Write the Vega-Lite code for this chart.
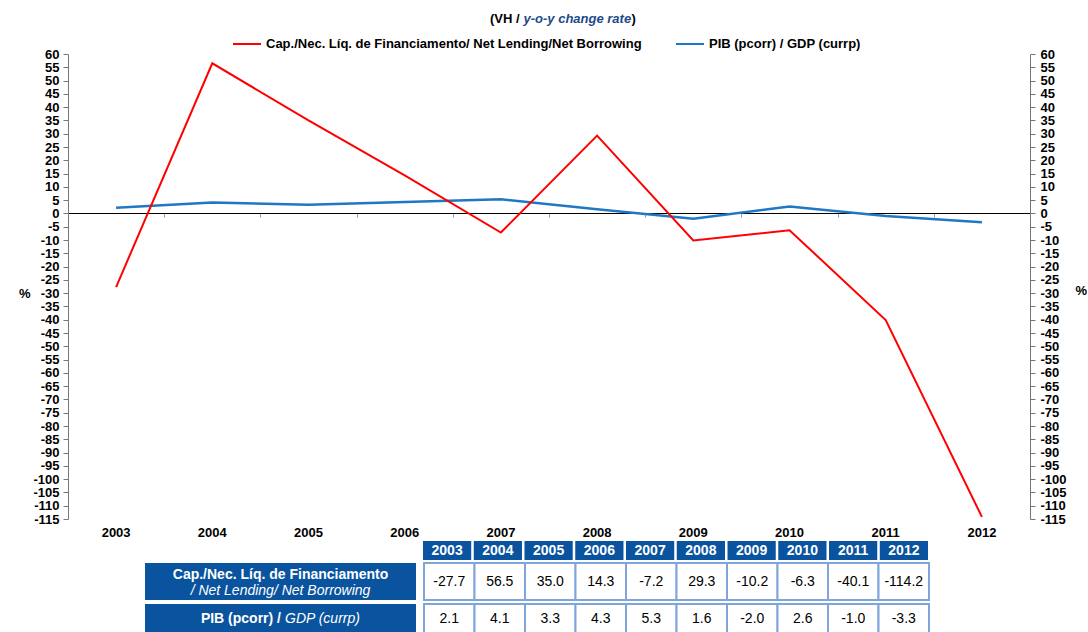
{
  "$schema": "https://vega.github.io/schema/vega-lite/v6.json",
  "background": "white",
  "padding": {"left": 18, "top": 12, "right": 0, "bottom": 0},
  "config": {
    "view": {"stroke": null},
    "font": "Liberation Sans",
    "locale": {"number": {"decimal": ".", "thousands": ",", "grouping": [3], "currency": ["$", ""], "minus": "-"}}
  },
  "datasets": {
    "lines": [
      {"year": "2003", "series": "Cap./Nec. Líq. de Financiamento/ Net Lending/Net Borrowing", "value": -27.7},
      {"year": "2004", "series": "Cap./Nec. Líq. de Financiamento/ Net Lending/Net Borrowing", "value": 56.5},
      {"year": "2005", "series": "Cap./Nec. Líq. de Financiamento/ Net Lending/Net Borrowing", "value": 35.0},
      {"year": "2006", "series": "Cap./Nec. Líq. de Financiamento/ Net Lending/Net Borrowing", "value": 14.3},
      {"year": "2007", "series": "Cap./Nec. Líq. de Financiamento/ Net Lending/Net Borrowing", "value": -7.2},
      {"year": "2008", "series": "Cap./Nec. Líq. de Financiamento/ Net Lending/Net Borrowing", "value": 29.3},
      {"year": "2009", "series": "Cap./Nec. Líq. de Financiamento/ Net Lending/Net Borrowing", "value": -10.2},
      {"year": "2010", "series": "Cap./Nec. Líq. de Financiamento/ Net Lending/Net Borrowing", "value": -6.3},
      {"year": "2011", "series": "Cap./Nec. Líq. de Financiamento/ Net Lending/Net Borrowing", "value": -40.1},
      {"year": "2012", "series": "Cap./Nec. Líq. de Financiamento/ Net Lending/Net Borrowing", "value": -114.2},
      {"year": "2003", "series": "PIB (pcorr) / GDP (currp)", "value": 2.1},
      {"year": "2004", "series": "PIB (pcorr) / GDP (currp)", "value": 4.1},
      {"year": "2005", "series": "PIB (pcorr) / GDP (currp)", "value": 3.3},
      {"year": "2006", "series": "PIB (pcorr) / GDP (currp)", "value": 4.3},
      {"year": "2007", "series": "PIB (pcorr) / GDP (currp)", "value": 5.3},
      {"year": "2008", "series": "PIB (pcorr) / GDP (currp)", "value": 1.6},
      {"year": "2009", "series": "PIB (pcorr) / GDP (currp)", "value": -2.0},
      {"year": "2010", "series": "PIB (pcorr) / GDP (currp)", "value": 2.6},
      {"year": "2011", "series": "PIB (pcorr) / GDP (currp)", "value": -1.0},
      {"year": "2012", "series": "PIB (pcorr) / GDP (currp)", "value": -3.3}
    ],
    "table": [
      {"year": "2003", "cap": -27.7, "gdp": 2.1},
      {"year": "2004", "cap": 56.5, "gdp": 4.1},
      {"year": "2005", "cap": 35.0, "gdp": 3.3},
      {"year": "2006", "cap": 14.3, "gdp": 4.3},
      {"year": "2007", "cap": -7.2, "gdp": 5.3},
      {"year": "2008", "cap": 29.3, "gdp": 1.6},
      {"year": "2009", "cap": -10.2, "gdp": -2.0},
      {"year": "2010", "cap": -6.3, "gdp": 2.6},
      {"year": "2011", "cap": -40.1, "gdp": -1.0},
      {"year": "2012", "cap": -114.2, "gdp": -3.3}
    ],
    "rows": [
      {"key": "cap", "pt": "Cap./Nec. Líq. de Financiamento", "en": "/ Net Lending/ Net Borrowing"},
      {"key": "gdp", "pt": "PIB (pcorr) /", "en": "GDP (currp)"}
    ],
    "none": []
  },
  "spacing": 2,
  "vconcat": [
    {
      "width": 962,
      "height": 465,
      "data": {"name": "lines"},
      "layer": [
        {
          "transform": [{"filter": {"field": "series", "equal": "PIB (pcorr) / GDP (currp)"}}],
          "mark": {"type": "line", "strokeWidth": 2.5},
          "encoding": {
            "x": {
              "field": "year", "type": "ordinal",
              "scale": {"type": "band", "paddingInner": 0, "paddingOuter": 0},
              "axis": {
                "orient": "bottom", "offset": -306, "labels": false, "grid": false,
                "domain": true, "domainColor": "#000000", "domainWidth": 1.2,
                "ticks": true, "tickBand": "extent", "tickSize": 4, "tickColor": "#999999",
                "title": ")", "titleX": 563, "titleY": -191, "titleAlign": "left", "titleAngle": 0,
                "titleBaseline": "alphabetic", "titleFontSize": 13, "titleFontWeight": "bold", "titleColor": "#000000"
              }
            },
            "y": {
              "field": "value", "type": "quantitative",
              "scale": {"domain": [-115, 60], "nice": false, "zero": false},
              "axis": {
                "orient": "right", "grid": false,
                "values": [-115, -110, -105, -100, -95, -90, -85, -80, -75, -70, -65, -60, -55, -50, -45, -40, -35, -30, -25, -20, -15, -10, -5, 0, 5, 10, 15, 20, 25, 30, 35, 40, 45, 50, 55, 60],
                "labelFontSize": 13, "labelFontWeight": "bold", "labelColor": "#000000",
                "labelFlush": false, "labelOverlap": false, "labelPadding": 5,
                "domainColor": "#777777", "tickColor": "#777777", "tickSize": 5,
                "title": "%", "titleAngle": 0, "titleX": 45, "titleY": 236, "titleAlign": "left",
                "titleBaseline": "middle", "titleFontSize": 13, "titleFontWeight": "bold", "titleColor": "#000000"
              }
            },
            "color": {
              "field": "series", "type": "nominal",
              "scale": {
                "domain": ["Cap./Nec. Líq. de Financiamento/ Net Lending/Net Borrowing", "PIB (pcorr) / GDP (currp)"],
                "range": ["#ff0000", "#1f78c4"]
              },
              "legend": {
                "orient": "none", "legendX": 164, "legendY": -25, "direction": "horizontal",
                "title": null, "symbolType": "stroke", "symbolStrokeWidth": 2, "symbolSize": 784,
                "labelFontSize": 13, "labelFontWeight": "bold", "labelColor": "#000000",
                "labelLimit": 700, "columnPadding": 30, "labelOffset": 4
              }
            }
          }
        },
        {
          "transform": [{"filter": {"field": "series", "equal": "Cap./Nec. Líq. de Financiamento/ Net Lending/Net Borrowing"}}],
          "mark": {"type": "line", "strokeWidth": 2},
          "encoding": {
            "x": {
              "field": "year", "type": "ordinal",
              "scale": {"type": "band", "paddingInner": 0, "paddingOuter": 0},
              "axis": {
                "orient": "bottom", "domain": false, "ticks": false, "grid": false,
                "labelAngle": 0, "labelFontSize": 13, "labelFontWeight": "bold", "labelColor": "#000000", "labelPadding": 7,
                "title": "(VH /", "titleX": 451, "titleY": -497, "titleAlign": "right", "titleAngle": 0,
                "titleBaseline": "alphabetic", "titleFontSize": 13, "titleFontWeight": "bold", "titleColor": "#000000"
              }
            },
            "y": {
              "field": "value", "type": "quantitative",
              "scale": {"domain": [-115, 60], "nice": false, "zero": false},
              "axis": {
                "orient": "left", "grid": false,
                "values": [-115, -110, -105, -100, -95, -90, -85, -80, -75, -70, -65, -60, -55, -50, -45, -40, -35, -30, -25, -20, -15, -10, -5, 0, 5, 10, 15, 20, 25, 30, 35, 40, 45, 50, 55, 60],
                "labelFontSize": 13, "labelFontWeight": "bold", "labelColor": "#000000",
                "labelFlush": false, "labelOverlap": false, "labelPadding": 4,
                "domainColor": "#777777", "tickColor": "#777777", "tickSize": 5,
                "title": "%", "titleAngle": 0, "titleX": -38, "titleY": 239, "titleAlign": "right",
                "titleBaseline": "middle", "titleFontSize": 13, "titleFontWeight": "bold", "titleColor": "#000000"
              }
            },
            "color": {"field": "series", "type": "nominal"}
          }
        },
        {
          "transform": [{"filter": {"field": "series", "equal": "Cap./Nec. Líq. de Financiamento/ Net Lending/Net Borrowing"}}],
          "mark": {"type": "line", "opacity": 0},
          "encoding": {
            "x": {
              "field": "year", "type": "ordinal",
              "scale": {"type": "band", "paddingInner": 0, "paddingOuter": 0},
              "axis": {
                "orient": "top", "domain": false, "ticks": false, "labels": false, "grid": false,
                "title": "y-o-y change rate", "titleX": 455, "titleY": -32, "titleAlign": "left", "titleAngle": 0,
                "titleBaseline": "alphabetic", "titleFontSize": 13, "titleFontWeight": "bold",
                "titleFontStyle": "italic", "titleColor": "#1c4a8a"
              }
            },
            "y": {"field": "value", "type": "quantitative", "axis": null}
          }
        }
      ],
      "resolve": {"axis": {"x": "independent", "y": "independent"}}
    },
    {
      "spacing": 7,
      "hconcat": [
        {"width": 348, "height": 19, "data": {"name": "none"}, "mark": "rect", "encoding": {}},
        {
          "width": 505, "height": 19,
          "data": {"name": "table"},
          "layer": [
            {
              "mark": {"type": "rect", "fill": "#0a539e"},
              "encoding": {"x": {"field": "year", "type": "ordinal", "scale": {"type": "band", "paddingInner": 0.05, "paddingOuter": 0}, "axis": null}}
            },
            {
              "mark": {"type": "text", "fontSize": 14, "fontWeight": "bold", "color": "#ffffff"},
              "encoding": {"x": {"field": "year", "type": "ordinal", "axis": null}, "text": {"field": "year"}}
            }
          ]
        }
      ]
    },
    {
      "spacing": 7,
      "hconcat": [
        {"width": 70, "height": 37, "data": {"name": "none"}, "mark": "rect", "encoding": {}},
        {
          "width": 271, "height": 37,
          "data": {"name": "rows"},
          "transform": [{"filter": {"field": "key", "equal": "cap"}}],
          "layer": [
            {"mark": {"type": "rect", "fill": "#0a539e"}, "encoding": {}},
            {"mark": {"type": "text", "fontSize": 14, "fontWeight": "bold", "color": "#ffffff", "dy": -7}, "encoding": {"text": {"field": "pt"}}},
            {"mark": {"type": "text", "fontSize": 14, "fontStyle": "italic", "color": "#ffffff", "dy": 9}, "encoding": {"text": {"field": "en"}}}
          ]
        },
        {
          "width": 505, "height": 37,
          "data": {"name": "table"},
          "layer": [
            {
              "mark": {"type": "rect", "fill": "#ffffff", "stroke": "#7ea6dc", "strokeWidth": 2},
              "encoding": {"x": {"field": "year", "type": "ordinal", "scale": {"type": "band", "paddingInner": 0, "paddingOuter": 0}, "axis": null}}
            },
            {
              "mark": {"type": "text", "fontSize": 14, "color": "#000000"},
              "encoding": {"x": {"field": "year", "type": "ordinal", "axis": null}, "text": {"field": "cap", "format": ".1f"}}
            }
          ]
        }
      ]
    },
    {
      "spacing": 7,
      "hconcat": [
        {"width": 70, "height": 30, "data": {"name": "none"}, "mark": "rect", "encoding": {}},
        {
          "width": 271, "height": 30,
          "data": {"name": "rows"},
          "transform": [{"filter": {"field": "key", "equal": "gdp"}}],
          "layer": [
            {"mark": {"type": "rect", "fill": "#0a539e"}, "encoding": {}},
            {"mark": {"type": "text", "fontSize": 14, "fontWeight": "bold", "color": "#ffffff", "align": "right", "dx": 0.5}, "encoding": {"text": {"field": "pt"}}},
            {"mark": {"type": "text", "fontSize": 14, "fontStyle": "italic", "color": "#ffffff", "align": "left", "dx": 4.5}, "encoding": {"text": {"field": "en"}}}
          ]
        },
        {
          "width": 505, "height": 30,
          "data": {"name": "table"},
          "layer": [
            {
              "mark": {"type": "rect", "fill": "#ffffff", "stroke": "#7ea6dc", "strokeWidth": 2},
              "encoding": {"x": {"field": "year", "type": "ordinal", "scale": {"type": "band", "paddingInner": 0, "paddingOuter": 0}, "axis": null}}
            },
            {
              "mark": {"type": "text", "fontSize": 14, "color": "#000000"},
              "encoding": {"x": {"field": "year", "type": "ordinal", "axis": null}, "text": {"field": "gdp", "format": ".1f"}}
            }
          ]
        }
      ]
    }
  ]
}
